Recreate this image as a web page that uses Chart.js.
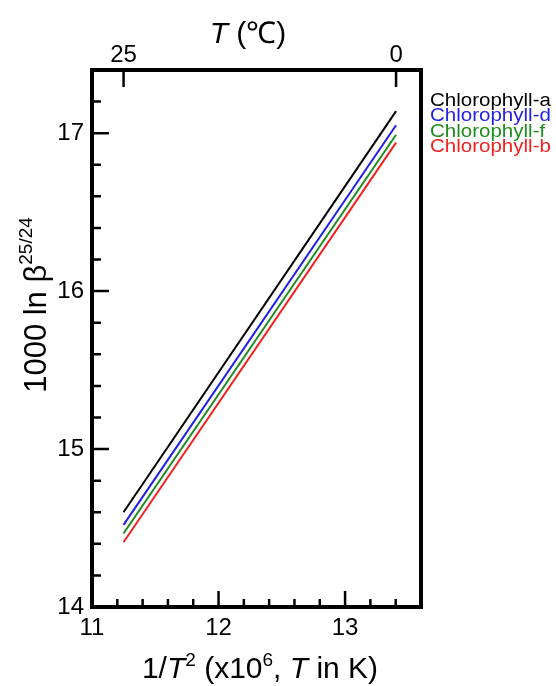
<!DOCTYPE html>
<html>
<head>
<meta charset="utf-8">
<script src="https://cdn.jsdelivr.net/npm/chart.js@4"></script>
<style>
  html, body { margin: 0; padding: 0; background: #fff; }
  #wrap { width: 556px; height: 686px; }
</style>
</head>
<body>
<div id="wrap"><canvas id="myChart" width="556" height="686"></canvas></div>
<script>
// ---------------- data ----------------
var xValues = [11.249, 13.403];          // 1/T^2 (x10^6) at 25 and 0 degC
var chlA = [14.60, 17.14];
var chlD = [14.52, 17.05];
var chlF = [14.465, 16.99];
var chlB = [14.41, 16.94];
var seriesNames = ["Chlorophyll-a", "Chlorophyll-d", "Chlorophyll-f", "Chlorophyll-b"];
var seriesColors = ["#000000", "#1f1fe8", "#1e8c1e", "#f52020"];
var xTicks = [11, 12, 13];
var yTicks = [14, 15, 16, 17];
var topTempC = [25, 0];

var FONT = "'Liberation Sans', Arial, sans-serif";

function pts(ys) {
    return xValues.map(function (x, i) { return { x: x, y: ys[i] }; });
}
// position of a temperature on the 1/T^2 axis
function tempPos(c) { return 1e6 / Math.pow(c + 273.15, 2); }

var allSeries = [chlA, chlD, chlF, chlB];
var datasets = allSeries.map(function (s, i) {
    return {
        label: seriesNames[i],
        data: pts(s),
        borderColor: seriesColors[i],
        backgroundColor: seriesColors[i],
        borderWidth: 2,
        pointRadius: 0,
        showLine: true
    };
});

// draw text made of several pieces (italic, superscript ...)
function richText(ctx, parts, x, y) {
    var w = 0;
    parts.forEach(function (p) { ctx.font = p.font; w += ctx.measureText(p.t).width; });
    var cx = x - w / 2;
    ctx.textAlign = "left";
    ctx.textBaseline = "alphabetic";
    parts.forEach(function (p) {
        ctx.font = p.font;
        ctx.fillText(p.t, cx, y + (p.dy || 0));
        cx += ctx.measureText(p.t).width;
    });
}

var decor = {
    id: "decor",
    afterDraw: function (chart) {
        var ctx = chart.ctx, a = chart.chartArea;
        var xs = chart.scales.x, ys = chart.scales.y;
        ctx.save();
        ctx.strokeStyle = "#000";
        ctx.fillStyle = "#000";

        // inward ticks
        ctx.lineWidth = 2.5;
        ctx.beginPath();
        for (var v = 11; v <= 13.61; v += 0.2) {
            var px = xs.getPixelForValue(v);
            var major = Math.abs(v - Math.round(v)) < 0.01;
            ctx.moveTo(px, a.bottom);
            ctx.lineTo(px, a.bottom - (major ? 16 : 8));
        }
        for (var w = 14; w <= 17.41; w += 0.2) {
            var py = ys.getPixelForValue(w);
            var maj = Math.abs(w - Math.round(w)) < 0.01;
            ctx.moveTo(a.left, py);
            ctx.lineTo(a.left + (maj ? 17 : 9), py);
        }
        topTempC.forEach(function (c) {
            var p = xs.getPixelForValue(tempPos(c));
            ctx.moveTo(p, a.top);
            ctx.lineTo(p, a.top + 17);
        });
        ctx.stroke();

        // frame
        ctx.lineWidth = 4;
        ctx.strokeRect(a.left, a.top, a.right - a.left, a.bottom - a.top);

        // axis titles
        var f = "30px " + FONT, fi = "italic 30px " + FONT, fs = "19px " + FONT;
        richText(ctx, [{ t: "T", font: fi }, { t: " (\u2103)", font: f }], 248, 43);
        richText(ctx, [
            { t: "1/", font: f }, { t: "T", font: fi }, { t: "2", font: fs, dy: -12 },
            { t: " (x10", font: f }, { t: "6", font: fs, dy: -12 }, { t: ", ", font: f },
            { t: "T", font: fi }, { t: " in K)", font: f }
        ], 260, 678);
        ctx.save();
        ctx.translate(46, 305);
        ctx.rotate(-Math.PI / 2);
        richText(ctx, [{ t: "1000 ln \u03b2", font: "31px " + FONT }, { t: "25/24", font: "19px " + FONT, dy: -14 }], 0, 0);
        ctx.restore();

        // legend (text slightly widened like the original)
        ctx.font = "18px " + FONT;
        ctx.textAlign = "left";
        ctx.textBaseline = "middle";
        chart.data.datasets.forEach(function (d, i) {
            ctx.save();
            ctx.translate(a.right + 9, 101 + i * 15.3);
            ctx.scale(1.14, 1);
            ctx.fillStyle = d.borderColor;
            ctx.fillText(d.label, 0, 0);
            ctx.restore();
        });
        ctx.restore();
    }
};

new Chart("myChart", {
    type: "scatter",
    data: { datasets: datasets },
    plugins: [decor],
    options: {
        responsive: false,
        animation: false,
        layout: { padding: { left: 0, right: 135, top: 0, bottom: 0 } },
        plugins: { legend: { display: false }, tooltip: { enabled: false } },
        scales: {
            x: {
                type: "linear", position: "bottom", min: 11, max: 13.6,
                afterBuildTicks: function (s) { s.ticks = xTicks.map(function (v) { return { value: v }; }); },
                afterFit: function (s) { s.height = 79; },
                grid: { display: false, drawTicks: false },
                border: { display: false },
                ticks: { color: "#000", font: { family: FONT, size: 24 }, padding: 7 }
            },
            x2: {
                type: "linear", position: "top", min: 11, max: 13.6,
                afterBuildTicks: function (s) { s.ticks = topTempC.map(function (c) { return { value: tempPos(c) }; }); },
                afterFit: function (s) { s.height = 70; },
                grid: { display: false, drawTicks: false },
                border: { display: false },
                ticks: {
                    color: "#000", font: { family: FONT, size: 24 }, padding: 0,
                    callback: function (v, i) { return String(topTempC[i]); }
                }
            },
            y: {
                type: "linear", min: 14, max: 17.4,
                afterBuildTicks: function (s) { s.ticks = yTicks.map(function (v) { return { value: v }; }); },
                afterFit: function (s) { s.width = 92; },
                grid: { display: false, drawTicks: false },
                border: { display: false },
                ticks: { color: "#000", font: { family: FONT, size: 24 }, padding: 8 }
            }
        }
    }
});
</script>
</body>
</html>
